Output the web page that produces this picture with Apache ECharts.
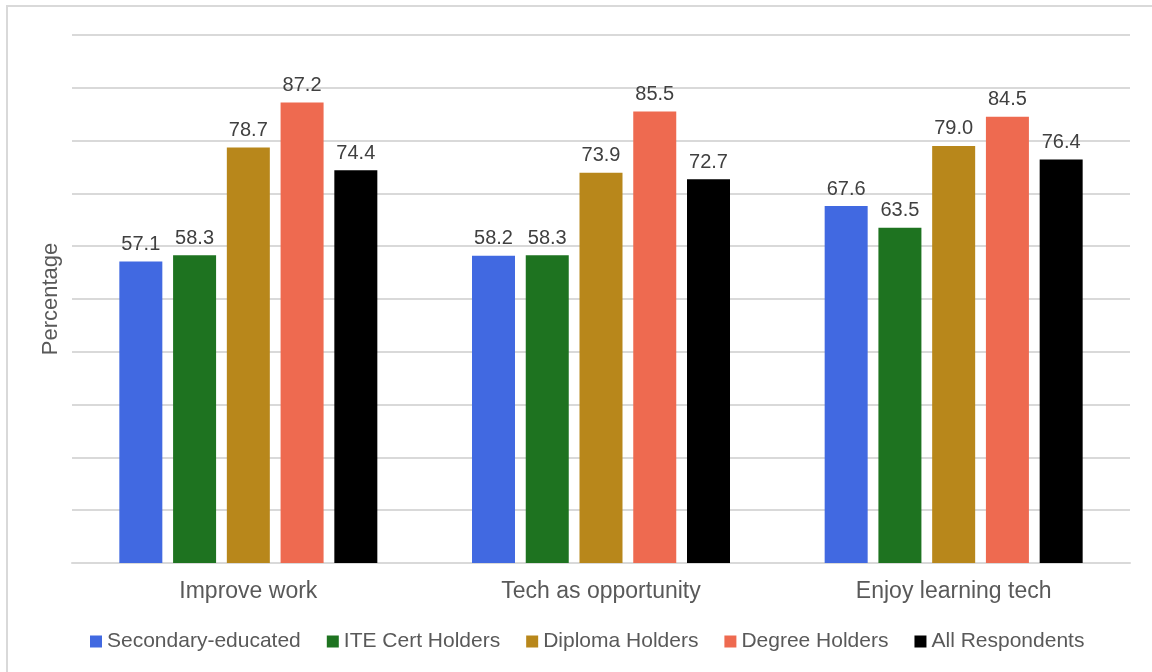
<!DOCTYPE html>
<html>
<head>
<meta charset="utf-8">
<script src="https://cdn.jsdelivr.net/npm/echarts@6/dist/echarts.min.js"></script>
<style>
  html, body { margin: 0; padding: 0; background: #fff; }
  #chart { width: 1152px; height: 672px; }
</style>
</head>
<body>
<div id="chart"></div>
<script>
// Attitudes towards technology by education level (%)
const categories = ['Improve work', 'Tech as opportunity', 'Enjoy learning tech'];
const seriesNames = ['Secondary-educated', 'ITE Cert Holders', 'Diploma Holders', 'Degree Holders', 'All Respondents'];
const secondary = [57.1, 58.2, 67.6];
const iteCert = [58.3, 58.3, 63.5];
const diploma = [78.7, 73.9, 79.0];
const degree = [87.2, 85.5, 84.5];
const allRespondents = [74.4, 72.7, 76.4];
const seriesValues = [secondary, iteCert, diploma, degree, allRespondents];
const colors = ['#4169E1', '#1E7320', '#B8871B', '#EE6A50', '#000000'];

const FONT = '"Liberation Sans", Arial, sans-serif';

const chart = echarts.init(document.getElementById('chart'), null, { renderer: 'canvas' });

const series = seriesNames.map((name, i) => ({
  name,
  type: 'bar',
  data: seriesValues[i],
  barWidth: 43,
  barGap: '25%',
  itemStyle: { color: colors[i] },
  label: {
    show: true,
    position: 'top',
    distance: 7,
    color: '#404040',
    fontSize: 20,
    fontFamily: FONT,
    formatter: p => p.value.toFixed(1)
  }
}));

chart.setOption({
  animation: false,
  textStyle: { fontFamily: FONT },
  graphic: [{
    type: 'rect',
    shape: { x: 7, y: 6, width: 1170, height: 690 },
    style: { fill: 'none', stroke: '#d9d9d9', lineWidth: 2 },
    silent: true
  }],
  grid: { left: 72, right: 22, top: 35, bottom: 109 },
  legend: {
    bottom: 15,
    left: 85,
    itemWidth: 12,
    itemHeight: 12,
    itemGap: 26,
    icon: 'rect',
    textStyle: { color: '#595959', fontSize: 21, fontFamily: FONT },
    data: seriesNames
  },
  xAxis: {
    type: 'category',
    data: categories,
    axisLine: { lineStyle: { color: '#d9d9d9', width: 2 } },
    axisTick: { show: false },
    axisLabel: { color: '#595959', fontSize: 23, fontFamily: FONT, margin: 17 }
  },
  yAxis: {
    type: 'value',
    min: 0,
    max: 100,
    interval: 10,
    name: 'Percentage',
    nameLocation: 'middle',
    nameGap: 10,
    nameTextStyle: { color: '#595959', fontSize: 22, fontFamily: FONT },
    axisLabel: { show: false },
    axisLine: { show: false },
    axisTick: { show: false },
    splitLine: { lineStyle: { color: '#d9d9d9', width: 2 } }
  },
  series
});
</script>
</body>
</html>
